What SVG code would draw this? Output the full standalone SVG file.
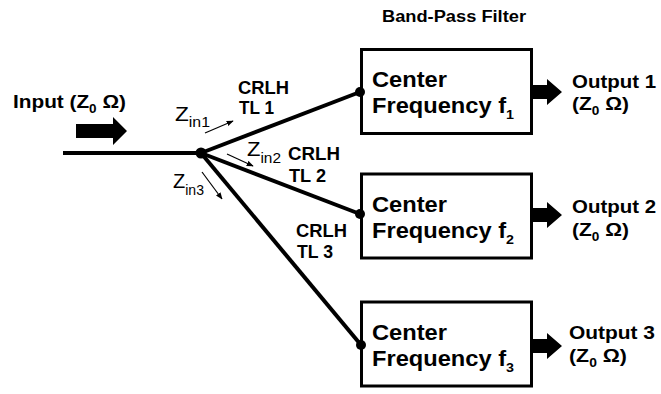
<svg xmlns="http://www.w3.org/2000/svg" width="661" height="394" viewBox="0 0 661 394">
<defs>
<style>
text{font-family:"Liberation Sans",Arial,sans-serif;font-weight:bold;fill:#000}
.box{fill:#fff;stroke:#000;stroke-width:3}
.wire{stroke:#000;stroke-width:4;fill:none}
.thin{stroke:#000;stroke-width:1.2;fill:none;marker-end:url(#ah)}
.big{font-size:21.5px}
.lbl{font-size:17.5px}
.io{font-size:18.5px}
.z{font-size:20px;font-weight:normal}
.ttl{font-size:16px}
</style>
<marker id="ah" viewBox="0 0 10 10" refX="9" refY="5" markerWidth="7" markerHeight="7" markerUnits="userSpaceOnUse" orient="auto"><path d="M0,1 L10,5 L0,9 Z"/></marker>
<path id="outArrow" d="M0,-7 H14 V-13 L29,0 L14,13 V7 H0 Z"/>
</defs>

<text class="ttl" x="382" y="22" textLength="144" lengthAdjust="spacingAndGlyphs">Band-Pass Filter</text>

<g id="input">
<text class="io" x="13" y="108" textLength="113" lengthAdjust="spacingAndGlyphs">Input (Z<tspan font-size="12" dy="5">0</tspan><tspan dy="-5"> Ω)</tspan></text>
<polygon points="76,124 113,124 113,117 127,131 113,145 113,138 76,138"/>
</g>

<g id="box1">
<rect class="box" x="361.5" y="49.5" width="170" height="84"/>
<text class="big" x="372" y="87" textLength="75" lengthAdjust="spacingAndGlyphs">Center</text>
<text class="big" x="372" y="113" textLength="142" lengthAdjust="spacingAndGlyphs">Frequency f<tspan font-size="13" dy="6">1</tspan></text>
</g>
<g id="box2">
<rect class="box" x="361.5" y="174" width="170" height="84"/>
<text class="big" x="372" y="212" textLength="75" lengthAdjust="spacingAndGlyphs">Center</text>
<text class="big" x="372" y="238" textLength="142" lengthAdjust="spacingAndGlyphs">Frequency f<tspan font-size="13" dy="6">2</tspan></text>
</g>
<g id="box3">
<rect class="box" x="361.5" y="302" width="170" height="84"/>
<text class="big" x="372" y="340" textLength="75" lengthAdjust="spacingAndGlyphs">Center</text>
<text class="big" x="372" y="366" textLength="142" lengthAdjust="spacingAndGlyphs">Frequency f<tspan font-size="13" dy="6">3</tspan></text>
</g>

<g id="output1">
<text class="io" x="572" y="88" textLength="84" lengthAdjust="spacingAndGlyphs">Output 1</text>
<text class="io" x="572" y="110" textLength="57" lengthAdjust="spacingAndGlyphs">(Z<tspan font-size="12" dy="5">0</tspan><tspan dy="-5"> Ω)</tspan></text>
</g>
<g id="output2">
<text class="io" x="572" y="213" textLength="84" lengthAdjust="spacingAndGlyphs">Output 2</text>
<text class="io" x="572" y="236" textLength="57" lengthAdjust="spacingAndGlyphs">(Z<tspan font-size="12" dy="5">0</tspan><tspan dy="-5"> Ω)</tspan></text>
</g>
<g id="output3">
<text class="io" x="569" y="339" textLength="86" lengthAdjust="spacingAndGlyphs">Output 3</text>
<text class="io" x="569" y="362" textLength="58" lengthAdjust="spacingAndGlyphs">(Z<tspan font-size="12" dy="5">0</tspan><tspan dy="-5"> Ω)</tspan></text>
</g>

<g id="labels">
<text class="lbl" x="238" y="94" textLength="51" lengthAdjust="spacingAndGlyphs">CRLH</text>
<text class="lbl" x="239" y="114" textLength="35" lengthAdjust="spacingAndGlyphs">TL 1</text>
<text class="lbl" x="288" y="160" textLength="52" lengthAdjust="spacingAndGlyphs">CRLH</text>
<text class="lbl" x="289" y="182" textLength="37" lengthAdjust="spacingAndGlyphs">TL 2</text>
<text class="lbl" x="296" y="237" textLength="51" lengthAdjust="spacingAndGlyphs">CRLH</text>
<text class="lbl" x="297" y="258" textLength="36" lengthAdjust="spacingAndGlyphs">TL 3</text>
<text class="z" x="175" y="121" textLength="35" lengthAdjust="spacingAndGlyphs">Z<tspan font-size="14" dy="6">in1</tspan></text>
<text class="z" x="247" y="156" textLength="34" lengthAdjust="spacingAndGlyphs">Z<tspan font-size="14" dy="7">in2</tspan></text>
<text class="z" x="173" y="188" textLength="31" lengthAdjust="spacingAndGlyphs">Z<tspan font-size="14" dy="7">in3</tspan></text>
</g>

<g id="connectors">
<line class="wire" x1="63" y1="153" x2="201" y2="153"/>
<line class="wire" x1="201" y1="153" x2="360" y2="92"/>
<line class="wire" x1="201" y1="153" x2="360" y2="214"/>
<line class="wire" x1="201" y1="153" x2="361" y2="345"/>
<circle cx="201" cy="153" r="5.5"/>
<circle cx="360" cy="92" r="5"/>
<circle cx="360" cy="214" r="5"/>
<circle cx="361" cy="345" r="5"/>
<line class="thin" x1="205" y1="133" x2="233" y2="121"/>
<line class="thin" x1="227" y1="154" x2="253" y2="166"/>
<line class="thin" x1="202" y1="172" x2="222" y2="199"/>
<use href="#outArrow" x="533" y="92"/>
<use href="#outArrow" x="533" y="215"/>
<use href="#outArrow" x="533" y="346"/>
</g>
</svg>
